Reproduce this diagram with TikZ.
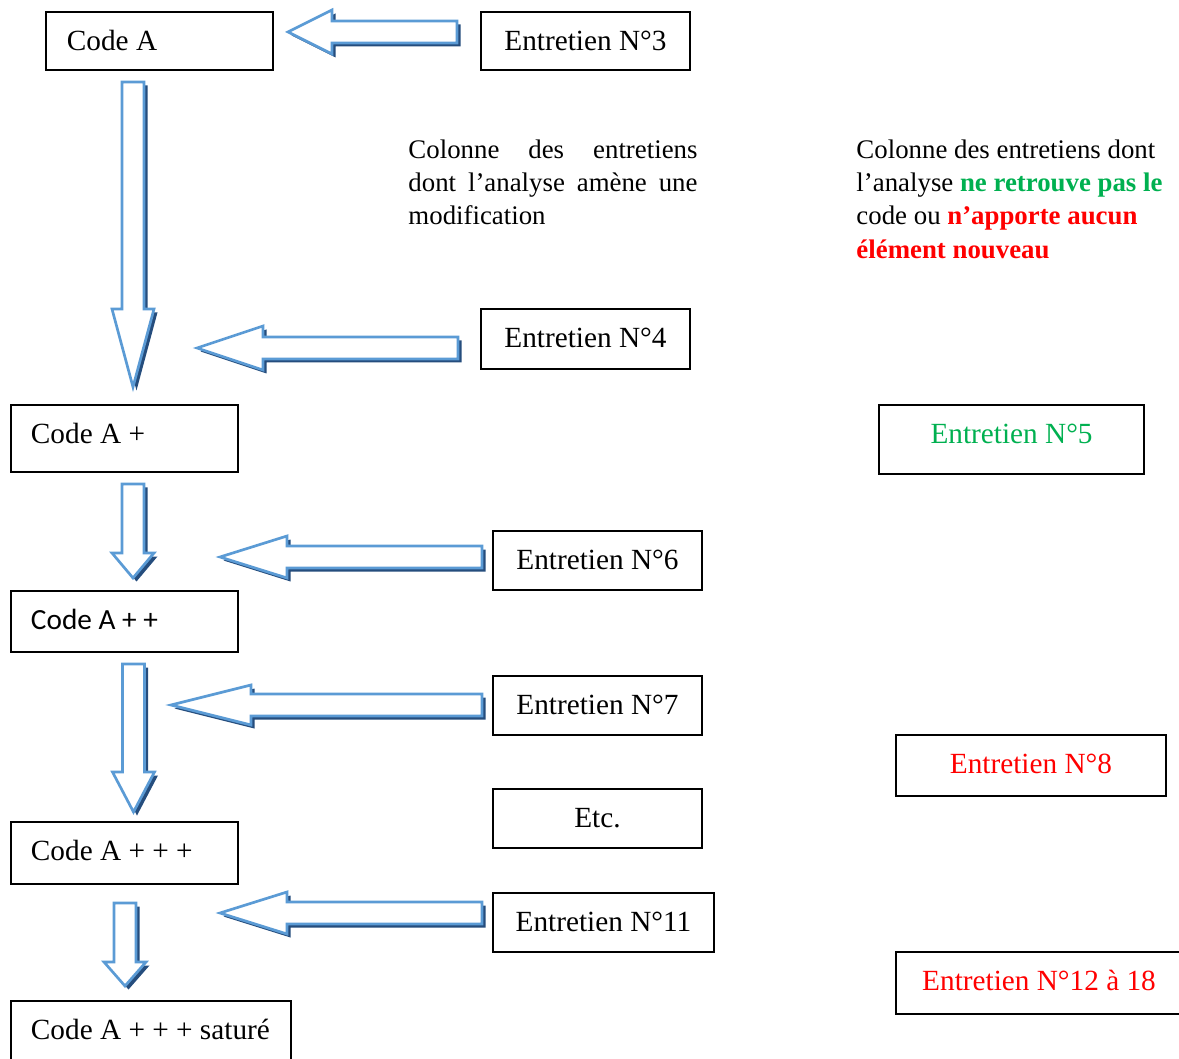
\documentclass[tikz,border=0pt]{standalone}
\usepackage{fontspec}
\setmainfont{Liberation Serif}
\newfontfamily\calibri{Carlito}
\usetikzlibrary{positioning}
\definecolor{bleuclair}{RGB}{91,155,213}
\definecolor{bleufonce}{RGB}{37,77,125}
\definecolor{vert}{RGB}{0,176,80}
\definecolor{rouge}{RGB}{255,0,0}

\tikzset{
	boite/.style={draw, line width=0.8pt, anchor=north west, inner sep=0pt,
		text height=15.6pt, font=\fontsize{12}{14}\selectfont},
	code/.style 2 args={boite, align=flush left, inner xsep=8.2pt, text width=#1, text depth=#2},
	entretien/.style 2 args={boite, align=center, minimum width=#1, text depth=#2},
	fleche/.style={draw=bleuclair, fill=white, line width=1.1pt},
	ombre/.style={fill=bleufonce, shift={(3.5,3.5)}},
	colonne/.style={anchor=north west, inner sep=0pt, align=flush left,
		font=\fontsize{11}{13.7}\selectfont}
}

\begin{document}
\begin{tikzpicture}[x=0.41pt, y=-0.41pt]
	\useasboundingbox (0,0) rectangle (1179,1059);
	% fleches vers le bas
	\foreach \cx/\ty/\hy/\py in {133/82/309/387, 133/484/553/578, 133.5/664/772/812, 125/903/962/986}
	{
		\fill[ombre] ({\cx-11},\ty) -- ({\cx+11},\ty) -- ({\cx+11},\hy) -- ({\cx+21},\hy)
		-- (\cx,\py) -- ({\cx-21},\hy) -- ({\cx-11},\hy) -- cycle;
		\draw[fleche] ({\cx-11},\ty) -- ({\cx+11},\ty) -- ({\cx+11},\hy) -- ({\cx+21},\hy)
		-- (\cx,\py) -- ({\cx-21},\hy) -- ({\cx-11},\hy) -- cycle;
	}
	% fleches vers la gauche
	\foreach \px/\py/\hx/\rx/\hh in {288/32/332/457/22, 197/348/263/458/22, 220/557/287/482/21, 171/705/251/482/20, 220/913/287/482/21}
	{
		\fill[ombre] (\px,\py) -- (\hx,{\py-\hh}) -- (\hx,{\py-11}) -- (\rx,{\py-11})
		-- (\rx,{\py+11}) -- (\hx,{\py+11}) -- (\hx,{\py+\hh}) -- cycle;
		\draw[fleche] (\px,\py) -- (\hx,{\py-\hh}) -- (\hx,{\py-11}) -- (\rx,{\py-11})
		-- (\rx,{\py+11}) -- (\hx,{\py+11}) -- (\hx,{\py+\hh}) -- cycle;
	}
	% colonne de gauche : les codes
	\node[code={75.9pt}{8.2pt}, inner xsep=8.6pt] (codeA) at (45,11) {Code A};
	\node[code={76.7pt}{11.9pt}] (codeAp) at (10,404) {Code A +};
	\node[code={76.7pt}{9.4pt}, font=\calibri\fontsize{12}{14}\selectfont] (codeApp) at (10,590) {Code A + +};
	\node[code={76.7pt}{9.8pt}] (codeAppp) at (10,821) {Code A + + +};
	\node[code={98.4pt}{9.8pt}] (codeSat) at (10,1000) {\mbox{Code A + + + saturé}};
	% entretiens qui modifient le code
	\node[entretien={85.7pt}{8.2pt}] (ent3) at (480,11) {Entretien N°3};
	\node[entretien={85.7pt}{9.0pt}] (ent4) at (480,308) {Entretien N°4};
	\node[entretien={85.7pt}{8.6pt}] (ent6) at (492,530) {Entretien N°6};
	\node[entretien={85.7pt}{8.6pt}] (ent7) at (492,675) {Entretien N°7};
	\node[entretien={85.7pt}{8.6pt}] (etc) at (492,788) {Etc.};
	\node[entretien={90.6pt}{8.6pt}] (ent11) at (492,892) {Entretien N°11};
	% entretiens sans apport
	\node[entretien={108.7pt}{12.7pt}, text=vert] (ent5) at (878,404) {Entretien N°5};
	\node[entretien={110.7pt}{9.4pt}, text=rouge] (ent8) at (895,734) {Entretien N°8};
	\node[entretien={117.3pt}{9.8pt}, text=rouge] (ent12) at (895,951) {Entretien N°12 à 18};
	% titres des colonnes
	\node[colonne, text width=118.5pt] (titreG) at (408,139)
	{Colonne\hfill des\hfill entretiens\\ dont\hfill l’analyse\hfill amène\hfill une\\ modification};
	\node[colonne, text width=130pt] (titreD) at (856,139)
	{Colonne des entretiens dont\\ l’analyse \textbf{\textcolor{vert}{ne retrouve pas le}}\\
		code ou \textbf{\textcolor{rouge}{n’apporte aucun}}\\ \textbf{\textcolor{rouge}{élément nouveau}}};
\end{tikzpicture}
\end{document}
